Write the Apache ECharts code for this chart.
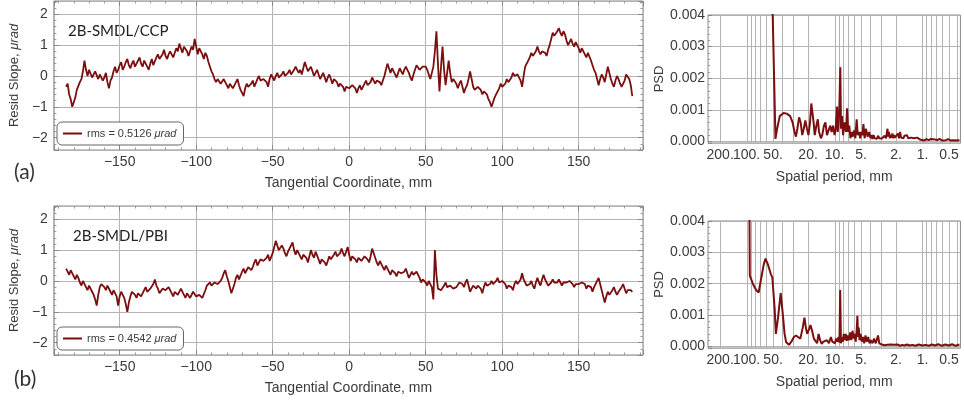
<!DOCTYPE html>
<html>
<head>
<meta charset="utf-8">
<script src="https://cdn.jsdelivr.net/npm/echarts@6/dist/echarts.min.js"></script>
<style>
html, body { margin: 0; padding: 0; background: #fff; }
#main { width: 964px; height: 402px; }
</style>
</head>
<body>
<div id="main"></div>
<script>
// sample grid of the slope scans (mm)
var xStart = -185, xStep = 1;

// residual slope, urad (2B-SMDL/CCP), one row = 10 mm
var slopeCCP = [
  -0.35, -0.25, -0.6, -0.75, -1.0, -0.85, -0.7, -0.45, -0.5, -0.2,
  -0.1, 0.15, 0.5, 0.2, 0.0, 0.2, 0.15, -0.05, -0.1, 0.15,
  0.1, -0.1, 0.05, 0.1, -0.15, -0.05, 0.1, -0.2, -0.4, -0.15,
  -0.05, 0.15, 0.3, 0.1, 0.2, 0.35, 0.45, 0.2, 0.3, 0.45,
  0.55, 0.35, 0.25, 0.4, 0.5, 0.3, 0.35, 0.5, 0.6, 0.4,
  0.3, 0.5, 0.45, 0.3, 0.2, 0.4, 0.55, 0.35, 0.4, 0.6,
  0.7, 0.55, 0.5, 0.7, 0.85, 0.65, 0.55, 0.7, 0.8, 0.7,
  0.6, 0.75, 0.9, 0.8, 1.05, 0.9, 0.75, 0.95, 1.0, 0.8,
  0.65, 0.8, 0.95, 0.85, 1.2, 0.95, 0.7, 0.9, 0.85, 0.7,
  0.55, 0.75, 0.65, 0.45, 0.3, 0.15, 0.05, -0.1, -0.2, -0.1,
  -0.05, -0.25, -0.3, -0.1, -0.15, -0.3, -0.4, -0.25, -0.2, -0.4,
  -0.35, -0.2, -0.1, -0.3, -0.45, -0.55, -0.65, -0.4, -0.25, -0.35,
  -0.4, -0.25, -0.15, -0.35, -0.3, -0.1, 0.0, -0.15, -0.2, -0.1,
  -0.05, -0.2, -0.35, -0.1, 0.05, -0.05, -0.15, 0.0, 0.1, -0.05,
  -0.1, 0.05, 0.15, 0.0, -0.05, 0.1, 0.2, 0.05, 0.0, 0.2,
  0.3, 0.2, 0.1, 0.2, 0.05, 0.25, 0.45, 0.3, 0.15, 0.2,
  0.3, 0.15, 0.0, 0.1, 0.2, 0.05, -0.1, 0.0, 0.1, -0.05,
  -0.2, -0.05, 0.05, -0.1, -0.25, -0.1, -0.05, -0.2, -0.35, -0.25,
  -0.2, -0.35, -0.5, -0.35, -0.3, -0.4, -0.45, -0.3, -0.25, -0.4,
  -0.55, -0.4, -0.3, -0.45, -0.4, -0.25, -0.15, -0.3, -0.35, -0.2,
  -0.05, -0.15, -0.25, -0.15, -0.1, -0.2, -0.3, -0.15, 0.0, 0.2,
  0.4, 0.25, 0.1, 0.25, 0.2, 0.05, -0.05, 0.1, 0.25, 0.15,
  0.05, 0.2, 0.3, 0.2, 0.1, -0.05, -0.15, 0.05, 0.2, 0.35,
  0.3, 0.2, 0.15, 0.3, 0.25, 0.3, 0.2, 0.05, -0.1, 0.1,
  0.3, 0.8, 1.45, 0.4, -0.5, 0.3, 0.95, 0.2, -0.3, 0.1,
  0.5, 0.1, -0.2, -0.1, -0.05, -0.25, -0.4, -0.25, -0.15, -0.35,
  -0.55, -0.4, -0.3, -0.1, 0.15, -0.1, -0.35, -0.45, -0.5, -0.35,
  -0.3, -0.45, -0.6, -0.5, -0.45, -0.6, -0.75, -0.85, -1.0, -0.85,
  -0.7, -0.6, -0.55, -0.4, -0.25, -0.35, -0.4, -0.25, -0.1, -0.2,
  -0.2, -0.05, 0.1, 0.0, -0.05, 0.05, 0.1, -0.15, -0.35, 0.0,
  0.3, 0.4, 0.5, 0.6, 0.75, 0.65, 0.6, 0.8, 0.95, 0.8,
  0.7, 0.8, 0.85, 0.75, 0.65, 0.85, 1.0, 1.2, 1.4, 1.3,
  1.25, 1.45, 1.55, 1.4, 1.3, 1.45, 1.35, 1.15, 1.0, 1.1,
  1.2, 1.05, 0.95, 1.1, 1.05, 0.9, 0.75, 0.9, 0.85, 0.7,
  0.6, 0.75, 0.7, 0.5, 0.35, 0.2, 0.1, -0.1, -0.3, -0.1,
  0.05, -0.05, -0.2, 0.05, 0.3, 0.1, -0.1, -0.25, -0.35, -0.15,
  0.0, -0.1, -0.25, -0.35, -0.4, -0.15, 0.05, 0.0, -0.1, -0.3,
  -0.65
];

// residual slope, urad (2B-SMDL/PBI), one row = 10 mm
var slopePBI = [
  0.4, 0.3, 0.2, 0.35, 0.3, 0.15, 0.05, 0.2, 0.1, -0.05,
  -0.15, 0.0, -0.05, -0.2, -0.3, -0.15, -0.2, -0.35, -0.45, -0.6,
  -0.8, -0.45, -0.2, -0.1, -0.05, -0.2, -0.3, -0.15, -0.2, -0.35,
  -0.45, -0.3, -0.3, -0.5, -0.8, -0.5, -0.35, -0.45, -0.55, -0.75,
  -1.0, -0.7, -0.5, -0.35, -0.3, -0.45, -0.55, -0.4, -0.35, -0.5,
  -0.45, -0.3, -0.2, -0.35, -0.4, -0.25, -0.3, -0.1, 0.05, -0.15,
  -0.25, -0.4, -0.4, -0.25, -0.2, -0.3, -0.35, -0.2, -0.25, -0.4,
  -0.5, -0.35, -0.3, -0.45, -0.4, -0.25, -0.3, -0.45, -0.55, -0.4,
  -0.4, -0.55, -0.5, -0.35, -0.35, -0.5, -0.55, -0.45, -0.4, -0.55,
  -0.5, -0.3, -0.15, -0.2, -0.05, -0.15, -0.2, -0.05, 0.0, -0.1,
  -0.15, 0.0, 0.1, 0.25, 0.35, 0.15, 0.0, -0.2, -0.4, -0.25,
  -0.1, 0.1, 0.2, 0.05, 0.1, 0.3, 0.4, 0.25, 0.3, 0.45,
  0.5, 0.35, 0.45, 0.6, 0.7, 0.5, 0.55, 0.7, 0.75, 0.65,
  0.6, 0.75, 0.85, 0.65, 0.7, 0.9, 1.1, 1.3, 1.25, 1.0,
  0.95, 1.15, 1.05, 0.9, 0.8, 0.95, 1.0, 1.15, 1.25, 1.0,
  0.85, 1.0, 0.95, 0.8, 0.7, 0.85, 0.9, 0.75, 0.6, 0.8,
  1.0, 0.85, 0.75, 0.95, 0.9, 0.7, 0.55, 0.7, 0.75, 0.6,
  0.5, 0.65, 0.8, 0.7, 0.65, 0.85, 0.95, 0.8, 0.75, 0.9,
  1.05, 0.9, 0.8, 0.95, 1.1, 0.85, 0.65, 0.8, 0.85, 0.7,
  0.6, 0.75, 0.8, 0.65, 0.7, 0.8, 0.85, 0.7, 0.6, 0.8,
  1.05, 0.9, 0.75, 0.6, 0.5, 0.65, 0.6, 0.45, 0.35, 0.5,
  0.45, 0.3, 0.2, 0.35, 0.4, 0.25, 0.15, 0.3, 0.35, 0.25,
  0.2, 0.3, 0.4, 0.25, 0.1, 0.2, 0.3, 0.2, 0.15, 0.3,
  0.25, 0.1, -0.05, 0.05, 0.1, -0.05, -0.15, 0.0, -0.1, -0.2,
  -0.6, 1.0, 0.2, -0.25, -0.2, -0.3, -0.35, -0.15, -0.05, -0.2,
  -0.25, -0.15, -0.1, -0.25, -0.3, -0.2, -0.15, -0.05, 0.0, -0.1,
  -0.2, -0.05, 0.05, -0.15, -0.35, -0.25, -0.15, -0.2, -0.25, -0.15,
  -0.1, -0.25, -0.4, -0.2, -0.05, -0.15, -0.2, -0.1, 0.0, -0.1,
  -0.15, 0.0, 0.1, -0.05, -0.1, 0.0, 0.05, -0.1, -0.25, -0.15,
  -0.1, -0.2, -0.3, -0.1, 0.0, -0.1, -0.15, 0.05, 0.25, 0.05,
  -0.05, -0.15, -0.2, -0.1, 0.0, -0.15, -0.25, -0.05, 0.1, -0.05,
  -0.15, 0.05, 0.2, 0.05, -0.05, -0.15, -0.2, -0.05, 0.05, -0.05,
  -0.1, -0.05, 0.05, -0.05, -0.15, -0.05, 0.0, -0.05, -0.1, 0.0,
  0.05, -0.1, -0.2, -0.1, -0.05, -0.1, -0.15, -0.05, 0.0, -0.1,
  -0.25, -0.15, -0.1, -0.2, -0.35, -0.2, -0.1, 0.0, 0.1, -0.1,
  -0.3, -0.5, -0.7, -0.5, -0.35, -0.45, -0.5, -0.3, -0.2, -0.35,
  -0.45, -0.35, -0.3, -0.2, -0.1, -0.25, -0.4, -0.3, -0.25, -0.3,
  -0.35
];

// PSD vs spatial period [mm, value]
var psdCCP = [
  [51, 0.0045], [47, 0.00008], [45, 0.0004], [42, 0.0008], [38, 0.0009], [35, 0.00088],
  [32, 0.0008], [30, 0.0006], [28.5, 0.0003], [27.5, 0.00015], [26.5, 0.0004], [25.3, 0.00076],
  [24.3, 0.0006], [23.3, 0.0002], [22.4, 0.0004], [21.5, 0.00066], [20.6, 0.0004], [19.8, 0.0002],
  [19.0, 0.0006], [18.4, 0.0012], [17.8, 0.00115], [17.3, 0.0006], [16.8, 0.0002], [16.1, 0.0005],
  [15.5, 0.0007], [15, 0.0003], [14.3, 0.0001], [13.8, 0.0002], [13.2, 0.0005], [12.7, 0.0006],
  [12.2, 0.0002], [11.7, 0.00015], [11.2, 0.0005], [10.8, 0.0003], [10.4, 0.0005], [10, 0.0002],
  [9.7, 0.0004], [9.4, 0.0011], [9.2, 0.0003], [9.0, 0.0006], [8.8, 0.0012], [8.6, 0.00235],
  [8.45, 0.0004], [8.2, 0.0008], [8.0, 0.0002], [7.7, 0.0006], [7.4, 0.0003], [7.2, 0.00105],
  [7.0, 0.0003], [6.8, 0.0005], [6.6, 0.0001], [6.4, 0.0003], [6.2, 0.00015], [6.0, 0.00035],
  [5.8, 0.0001], [5.7, 0.0004], [5.6, 0.0007], [5.45, 0.0002], [5.25, 0.0003], [5.1, 0.0001],
  [4.95, 0.0003], [4.8, 0.0002], [4.7, 0.00055], [4.55, 0.0001], [4.4, 0.0004], [4.2, 0.00015],
  [4.05, 0.0003], [3.9, 0.0001], [3.8, 0.0002], [3.7, 0.00008], [3.6, 0.0002], [3.5, 0.0001],
  [3.4, 0.00015], [3.3, 0.00008], [3.2, 0.00018], [3.1, 0.0001], [3.0, 0.00015], [2.9, 0.00009],
  [2.8, 0.00012], [2.7, 0.00018], [2.6, 0.0001], [2.5, 0.0004], [2.45, 0.00015], [2.4, 0.0003],
  [2.35, 0.0001], [2.3, 0.0002], [2.25, 0.00012], [2.2, 0.00025], [2.15, 0.0001], [2.1, 0.0002],
  [2.05, 0.00012], [2.0, 0.00015], [1.95, 0.0001], [1.9, 0.00025], [1.85, 0.0001], [1.8, 0.0003],
  [1.75, 0.00012], [1.7, 0.00015], [1.65, 0.0001], [1.6, 0.00018], [1.55, 0.00012], [1.5, 0.0002],
  [1.45, 0.0001], [1.4, 0.00015], [1.35, 0.00012], [1.3, 0.00014], [1.25, 0.0001], [1.2, 0.00015],
  [1.15, 0.00012], [1.1, 0.00013], [1.05, 0.00005], [1.0, 0.00006], [0.95, 0.00003], [0.9, 0.00007],
  [0.85, 0.00004], [0.8, 0.00008], [0.76, 0.00003], [0.72, 0.00006], [0.68, 0.00004], [0.64, 0.00008],
  [0.6, 0.00003], [0.57, 0.00006], [0.54, 0.00004], [0.51, 0.00007], [0.48, 0.00003], [0.46, 0.00006],
  [0.44, 0.00004], [0.42, 0.00007], [0.4, 0.00003], [0.38, 0.00005]
];

var psdPBI = [
  [93, 0.0045], [92, 0.00226], [85, 0.002], [78, 0.0018], [73, 0.00172], [68, 0.0022],
  [64, 0.0026], [61, 0.0028], [57, 0.0026], [53, 0.0023], [51, 0.0022], [48, 0.0012],
  [46.5, 0.0004], [44, 0.0009], [41, 0.0017], [39, 0.0011], [37, 0.0004], [35.5, 0.00013],
  [33, 0.00005], [31, 0.00015], [29, 0.0003], [27.5, 0.00035], [26, 0.0003], [24.5, 0.00025],
  [23, 0.0006], [22, 0.00092], [21.2, 0.0006], [20.5, 0.0004], [19.5, 0.00055], [18.8, 0.00068],
  [18, 0.0005], [17.2, 0.00025], [16.5, 0.0002], [15.8, 0.0001], [15.2, 0.0004], [14.6, 0.0002],
  [14, 0.00008], [13.4, 0.00015], [12.8, 0.0001], [12.2, 0.0002], [11.6, 0.0001], [11, 0.0003],
  [10.6, 0.00015], [10.2, 0.0002], [9.9, 0.0001], [9.6, 0.00025], [9.3, 0.00015], [9.0, 0.0003],
  [8.8, 0.00012], [8.63, 0.0018], [8.45, 0.0001], [8.25, 0.0003], [8.05, 0.00015], [7.85, 0.0004],
  [7.65, 0.0002], [7.45, 0.0004], [7.25, 0.00018], [7.05, 0.00035], [6.85, 0.0002], [6.65, 0.00045],
  [6.45, 0.0002], [6.25, 0.0005], [6.05, 0.00025], [5.9, 0.0004], [5.75, 0.00015], [5.6, 0.0005],
  [5.5, 0.00098], [5.4, 0.0003], [5.3, 0.0006], [5.2, 0.0002], [5.05, 0.0004], [4.9, 0.00015],
  [4.75, 0.0003], [4.6, 0.0001], [4.45, 0.00035], [4.3, 0.00015], [4.15, 0.0003], [4.0, 0.0001],
  [3.85, 0.0002], [3.7, 0.0001], [3.55, 0.00025], [3.4, 0.0001], [3.3, 0.00015], [3.2, 0.00035],
  [3.1, 0.0001], [3.0, 0.00012], [2.9, 0.00006], [2.8, 0.0001], [2.7, 0.00004], [2.6, 0.00008],
  [2.5, 0.00005], [2.4, 0.00003], [2.3, 0.00006], [2.2, 0.00002], [2.1, 0.00005], [2.0, 0.00003],
  [1.9, 0.00006], [1.8, 0.00002], [1.7, 0.00005], [1.6, 0.00003], [1.5, 0.00006], [1.4, 0.00003],
  [1.3, 0.00005], [1.2, 0.00002], [1.1, 0.00006], [1.0, 0.00003], [0.92, 0.00005], [0.85, 0.00002],
  [0.78, 0.00006], [0.72, 0.00003], [0.66, 0.00007], [0.6, 0.00002], [0.55, 0.00006], [0.5, 0.00003],
  [0.46, 0.00007], [0.42, 0.00002], [0.38, 0.00006]
];

var periodLabels = [100, 50, 20, 10, 5, 2, 1, 0.5];
var periodLabelsFar = [200];
var periodGrid = [200, 100, 90, 80, 70, 60, 50, 40, 30, 20, 10, 9, 8, 7, 6, 5, 4, 3, 2, 1, 0.9, 0.8, 0.7, 0.6, 0.5, 0.4];
var rmsCCP = 'rms = 0.5126 μrad';
var rmsPBI = 'rms = 0.4542 μrad';

var lineColor = '#7b0f0f';
var gridColor = '#b3b3b3';
var frameColor = '#888';
var txtColor = '#3a3a3a';
var font = 'Liberation Sans';

function toPairs(vals) {
    return vals.map(function (v, i) { return [xStart + i * xStep, v]; });
}
function minus(v) { return String(v).replace('-', '\u2212'); }
function fmtPeriod(v) { return v >= 1 ? Math.round(v) + '.' : String(v); }

var mychart = echarts.init(document.getElementById('main'));

function slopeX(g, top) {
    return {
        gridIndex: g, type: 'value', min: -193, max: 192, splitNumber: 8,
        position: top ? 'top' : 'bottom',
        axisLine: { show: false, onZero: false },
        axisTick: { inside: true, length: 5, lineStyle: { color: frameColor } },
        minorTick: { show: true, splitNumber: 5, length: 2.5, lineStyle: { color: '#999' } },
        splitLine: { show: !top, lineStyle: { color: gridColor, width: 1 } },
        axisLabel: {
            show: !top, showMinLabel: false, showMaxLabel: false, margin: 5,
            color: txtColor, fontSize: 14, fontFamily: font, formatter: minus
        },
        name: top ? '' : 'Tangential Coordinate, mm',
        nameLocation: 'middle', nameGap: 26,
        nameTextStyle: { color: txtColor, fontSize: 14, fontFamily: font }
    };
}
function slopeY(g, right) {
    return {
        gridIndex: g, type: 'value', min: -2.4, max: 2.43, splitNumber: 5,
        position: right ? 'right' : 'left',
        axisLine: { show: false, onZero: false },
        axisTick: { inside: true, length: 5, lineStyle: { color: frameColor } },
        minorTick: { show: true, splitNumber: 5, length: 2.5, lineStyle: { color: '#999' } },
        splitLine: { show: !right, lineStyle: { color: gridColor, width: 1 } },
        axisLabel: {
            show: !right, showMinLabel: false, showMaxLabel: false, margin: 6,
            color: txtColor, fontSize: 14, fontFamily: font, formatter: minus
        },
        name: right ? '' : '{a|Resid Slope, }{b|μrad}',
        nameLocation: 'middle', nameGap: 21,
        nameTextStyle: {
            color: txtColor, fontSize: 13, fontFamily: font,
            rich: {
                a: { color: txtColor, fontSize: 13, fontFamily: font },
                b: { color: txtColor, fontSize: 13, fontFamily: font, fontStyle: 'italic' }
            }
        }
    };
}
// log period axis; the 'far' copy carries the 200 label (so it is not dropped
// for overlapping the 100 label) and the vertical grid lines
function psdX(g, far) {
    return {
        gridIndex: g, type: 'log', logBase: 10, inverse: true, min: 0.37, max: 275,
        position: 'bottom',
        axisLine: { show: false, onZero: false },
        axisTick: { show: false },
        minorTick: { show: false },
        splitLine: { show: false },
        axisLabel: {
            customValues: far ? periodLabelsFar : periodLabels,
            showMinLabel: true, showMaxLabel: true, hideOverlap: false,
            margin: 5, color: txtColor, fontSize: 14, fontFamily: font, formatter: fmtPeriod
        },
        name: far ? '' : 'Spatial period, mm', nameLocation: 'middle', nameGap: 27,
        nameTextStyle: { color: txtColor, fontSize: 14, fontFamily: font }
    };
}
function psdY(g) {
    return {
        gridIndex: g, type: 'value', min: -0.00005, max: 0.004, splitNumber: 5,
        axisLine: { show: false, onZero: false },
        axisTick: { inside: true, length: 4, lineStyle: { color: frameColor } },
        minorTick: { show: true, splitNumber: 5, length: 2, lineStyle: { color: '#999' } },
        splitLine: { lineStyle: { color: gridColor, width: 1 } },
        axisLabel: {
            showMinLabel: false, margin: 3, color: txtColor, fontSize: 14, fontFamily: font,
            formatter: function (v) { return v.toFixed(3); }
        },
        name: 'PSD', nameLocation: 'middle', nameGap: 31,
        nameTextStyle: { color: txtColor, fontSize: 13, fontFamily: font }
    };
}
function frame(left, top, width, height) {
    return { left: left, top: top, width: width, height: height, show: true,
             borderColor: frameColor, borderWidth: 1, backgroundColor: 'transparent' };
}
function legendBox(name, top) {
    return {
        data: [{ name: name, icon: 'rect' }], left: 57, top: top, selectedMode: false,
        backgroundColor: '#fff', borderColor: '#666', borderWidth: 1, borderRadius: 5,
        padding: [5, 7, 5, 6], itemWidth: 19, itemHeight: 2, itemGap: 5,
        formatter: function (n) { return '{t|' + n.replace('μrad', '') + '}{u|μrad}'; },
        textStyle: {
            color: txtColor, fontSize: 11, fontFamily: font, lineHeight: 13,
            rich: {
                t: { color: txtColor, fontSize: 11, fontFamily: font, lineHeight: 13 },
                u: { color: txtColor, fontSize: 11, fontFamily: font, fontStyle: 'italic', lineHeight: 13 }
            }
        }
    };
}
function lineSeries(name, xi, yi, data, width) {
    return {
        name: name, type: 'line', xAxisIndex: xi, yAxisIndex: yi, data: data,
        symbol: 'none', showSymbol: false, animation: false, clip: true,
        lineStyle: { color: lineColor, width: width }, itemStyle: { color: lineColor }
    };
}
// vertical log-period grid lines, placed through the period axis
function periodGridSeries(xi, yi) {
    return {
        type: 'custom', xAxisIndex: xi, yAxisIndex: yi, silent: true, z: 1,
        animation: false, clip: false,
        data: periodGrid.map(function (p) { return [p, 0.001]; }),
        encode: { x: 0, y: 1 },
        renderItem: function (params, api) {
            var pt = api.coord([api.value(0), 0.001]);
            var cs = params.coordSys;
            var x = Math.round(pt[0]) + 0.5;
            return {
                type: 'line',
                shape: { x1: x, y1: cs.y, x2: x, y2: cs.y + cs.height },
                style: { stroke: gridColor, lineWidth: 1 }
            };
        }
    };
}

var option = {
    animation: false,
    grid: [
        frame(52, 1, 591, 149),
        frame(52, 206, 591, 149),
        frame(708, 15, 255, 128),
        frame(708, 221, 255, 127)
    ],
    xAxis: [
        slopeX(0, false), slopeX(0, true), slopeX(1, false), slopeX(1, true),
        psdX(2, false), psdX(3, false), psdX(2, true), psdX(3, true)
    ],
    yAxis: [slopeY(0, false), slopeY(0, true), slopeY(1, false), slopeY(1, true), psdY(2), psdY(3)],
    legend: [legendBox(rmsCCP, 122), legendBox(rmsPBI, 327)],
    series: [
        periodGridSeries(6, 4),
        periodGridSeries(7, 5),
        lineSeries(rmsCCP, 0, 0, toPairs(slopeCCP), 1.8),
        lineSeries(rmsPBI, 2, 2, toPairs(slopePBI), 1.8),
        lineSeries('psdCCP', 4, 4, psdCCP, 2),
        lineSeries('psdPBI', 5, 5, psdPBI, 2)
    ],
    graphic: [
        { type: 'text', left: 68, top: 24, style: { text: '2B-SMDL/CCP', fill: '#222', font: '15px Lato' } },
        { type: 'text', left: 73, top: 229, style: { text: '2B-SMDL/PBI', fill: '#222', font: '15px Lato' } },
        { type: 'text', left: 14, top: 162, style: { text: '(a)', fill: '#333', font: '21px Lato' } },
        { type: 'text', left: 14, top: 369, style: { text: '(b)', fill: '#333', font: '21px Lato' } }
    ]
};
mychart.setOption(option);
</script>
</body>
</html>
